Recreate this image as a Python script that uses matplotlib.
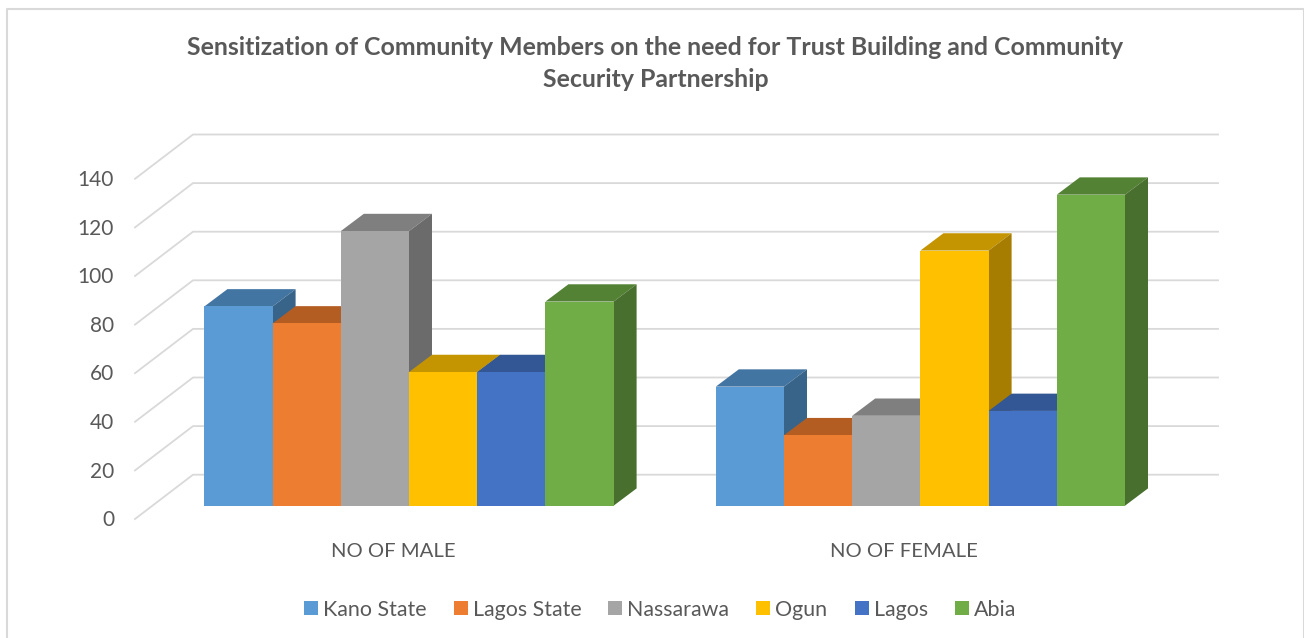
from matplotlib import pyplot as plt
from matplotlib.patches import Polygon, Patch

plt.rcParams['font.family'] = ['Lato', 'DejaVu Sans']

categories = ['NO OF MALE', 'NO OF FEMALE']
states = ['Kano State', 'Lagos State', 'Nassarawa', 'Ogun', 'Lagos', 'Abia']
male = [82, 75, 113, 55, 55, 84]
female = [49, 29, 37, 105, 39, 128]
ticks = [0, 20, 40, 60, 80, 100, 120, 140]

front_colors = ['#5B9BD5', '#ED7D31', '#A5A5A5', '#FFC000', '#4472C4', '#70AD47']
top_colors = ['#4375A2', '#B35D22', '#7F7F7F', '#C49500', '#335694', '#548235']
side_colors = ['#38648A', '#96501E', '#6B6B6B', '#A67D00', '#2C4A7F', '#486F2D']

TEXT = '#595959'
GRID = '#D9D9D9'

fig = plt.figure(figsize=(13.04, 6.38), dpi=100)
ax = fig.add_axes([0, 0, 1, 1])
ax.axis('off')

# one category = 511.4 px, one value unit = 2.43 px
xscale = 511.4
yscale = 2.43
ax.set_xlim((0 - 393) / xscale, (1304 - 393) / xscale)
ax.set_ylim((505.7 - 638) / yscale, 505.7 / yscale)

bar_w = 68.2 / xscale
group_shift = 16 / xscale
depth_x = 23 / xscale
depth_y = 17.3 / yscale

# chart frame, open at the bottom
ax.plot([(7 - 393) / xscale] * 2 + [(1303.5 - 393) / xscale] * 2,
        [-60, (505.7 - 8.5) / yscale, (505.7 - 8.5) / yscale, -60],
        color=GRID, lw=1.5, zorder=1)

# walls: side wall diagonal then back wall line for each tick
wall_left = (193 - 393) / xscale
wall_right = (1218 - 393) / xscale
side_left = (135 - 393) / xscale
for t in ticks:
    ax.plot([side_left, wall_left, wall_right],
            [t - 13.3 / yscale, t + 31 / yscale, t + 31 / yscale],
            color=GRID, lw=1.3, zorder=2, solid_joinstyle='round')
    ax.text((114 - 393) / xscale, t - 6.0, str(t), ha='right', va='center',
            fontsize=15, color=TEXT)

# left to right so each bar paints over the side of the previous one
for c, values in enumerate([male, female]):
    left = c + group_shift - bar_w * len(states) / 2
    for i, v in enumerate(values):
        x0 = left + i * bar_w
        x1 = x0 + bar_w
        z = 3 + i
        ax.add_patch(Polygon([(x0, v), (x1, v), (x1 + depth_x, v + depth_y), (x0 + depth_x, v + depth_y)],
                             closed=True, fc=top_colors[i], ec='none', zorder=z))
        ax.add_patch(Polygon([(x1, 0), (x1 + depth_x, depth_y), (x1 + depth_x, v + depth_y), (x1, v)],
                             closed=True, fc=side_colors[i], ec='none', zorder=z))
        ax.bar(x0, v, width=bar_w, align='edge', color=front_colors[i], zorder=z)
    ax.text(c, -18.8, categories[c], ha='center', va='center', fontsize=14.6, color=TEXT)

ax.text((655.5 - 393) / xscale, (505.7 - 47) / yscale,
        'Sensitization of Community Members on the need for Trust Building and Community',
        ha='center', va='center', fontsize=17.9, fontweight='bold', color=TEXT)
ax.text((655.5 - 393) / xscale, (505.7 - 79) / yscale,
        'Security Partnership',
        ha='center', va='center', fontsize=17.9, fontweight='bold', color=TEXT)

handles = [Patch(fc=c, ec='none') for c in front_colors]
fs = 15.4
ax.legend(handles, states, ncol=6, loc='center', bbox_to_anchor=(660 / 1304, 1 - 609.5 / 638),
          frameon=False, fontsize=fs, labelcolor=TEXT,
          handlelength=14 * 0.72 / fs, handleheight=14 * 0.72 / fs,
          handletextpad=5 * 0.72 / fs, columnspacing=27 * 0.72 / fs, borderpad=0, borderaxespad=0)

fig.savefig('out.png', dpi=100)
